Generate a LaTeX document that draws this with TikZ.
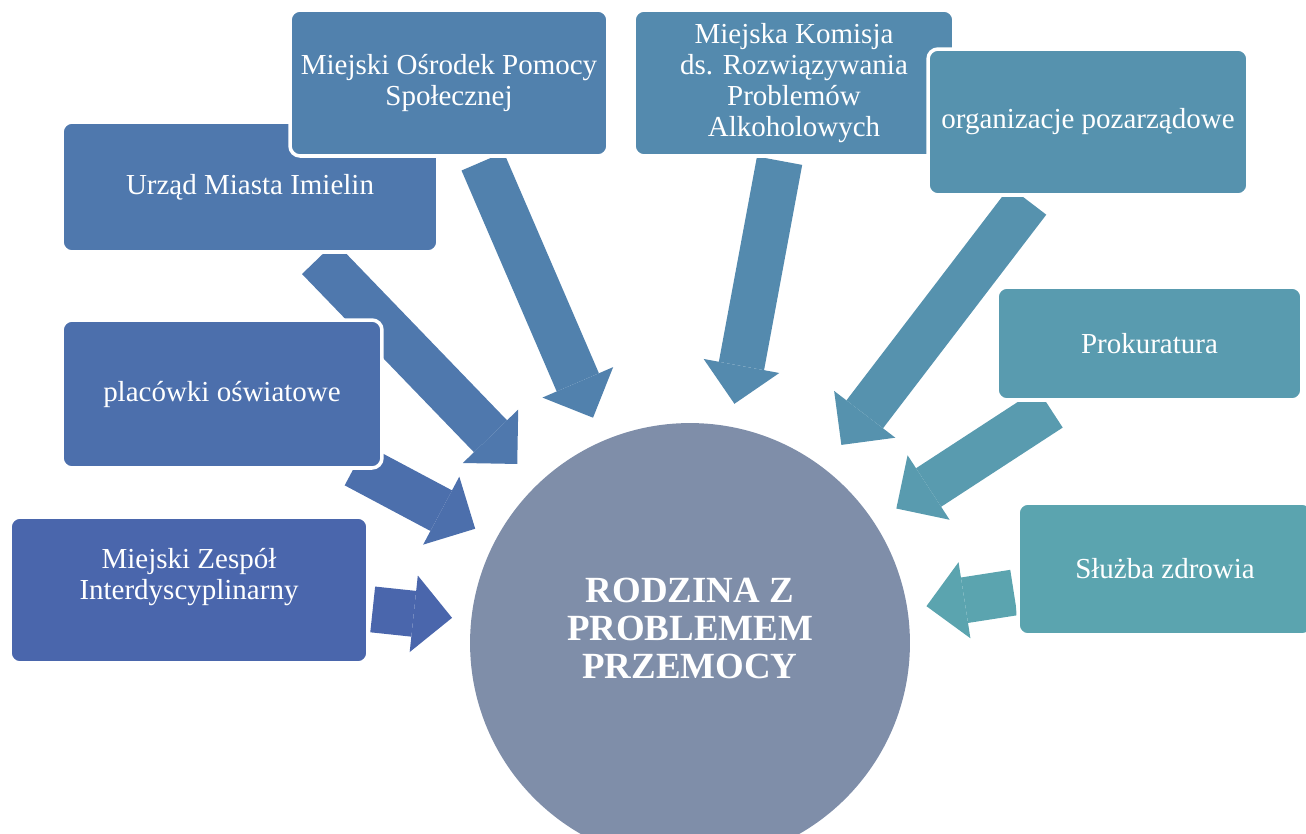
\documentclass[tikz,border=0pt]{standalone}
\usepackage{fontspec}
\setmainfont{Liberation Serif}
\usetikzlibrary{arrows.meta,backgrounds}
\definecolor{c1}{HTML}{4A66AC}
\definecolor{c2}{HTML}{4C6FAC}
\definecolor{c3}{HTML}{4F78AD}
\definecolor{c4}{HTML}{5181AD}
\definecolor{c5}{HTML}{548AAE}
\definecolor{c6}{HTML}{5692AE}
\definecolor{c7}{HTML}{599BAF}
\definecolor{c8}{HTML}{5BA4AF}
\definecolor{rodz}{HTML}{7F8EA9}
\begin{document}
\begin{tikzpicture}[x=0.02cm,y=-0.02cm,
    box/.style={rectangle,rounded corners=0.2cm,draw=white,line width=2pt,
      text=white,align=center,font=\fontsize{16.5pt}{17.6pt}\selectfont},
    txt/.style={text=white,align=center,font=\fontsize{16.5pt}{17.6pt}\selectfont},
    big/.style={line width=0.92cm,-{Triangle[width=1.54cm,length=0.77cm,line width=0pt]}}]
  \useasboundingbox (0,0) rectangle (1306,833);
  \node[circle,fill=rodz,minimum size=8.8cm,inner sep=0pt] (rodzina) at (690,643) {};
  \node[text=white,align=center,font=\bfseries\fontsize{21pt}{21.5pt}\selectfont]
    (rodzinatxt) at (690,628.5) {RODZINA Z\\PROBLEMEM\\PRZEMOCY};
  \node[box,fill=c1,minimum width=7.16cm,minimum height=2.92cm] (zespol) at (189,590) {};
  \node[txt] (zespoltxt) at (189,577) {Miejski Zespół\\Interdyscyplinarny};
  \node[box,fill=c2,minimum width=6.4cm,minimum height=2.96cm] (placowki) at (222,394) {placówki oświatowe};
  \node[box,fill=c3,minimum width=7.52cm,minimum height=2.6cm] (urzad) at (250,187) {Urząd Miasta Imielin};
  \node[box,fill=c4,minimum width=6.36cm,minimum height=2.92cm] (osrodek) at (449,83) {Miejski Ośrodek Pomocy\\Społecznej};
  \node[box,fill=c5,minimum width=6.4cm,minimum height=2.92cm] (komisja) at (794,83) {Miejska Komisja\\ds. Rozwiązywania\\Problemów\\Alkoholowych};
  \node[box,fill=c6,minimum width=6.4cm,minimum height=2.92cm] (ngo) at (1088,122) {organizacje pozarządowe};
  \node[box,fill=c7,minimum width=6.1cm,minimum height=2.26cm] (prokuratura) at (1149.5,343.5) {Prokuratura};
  \node[box,fill=c8,minimum width=5.88cm,minimum height=2.64cm] (sluzba) at (1165,569) {Służba zdrowia};
  \begin{scope}[on background layer]
    \draw[big,c1,shorten <=0.06cm,shorten >=0.38cm] (zespol) to (rodzina);
    \draw[big,c2,shorten <=-0.2cm,shorten >=0.46cm] (placowki) to (rodzina);
    \draw[big,c3,shorten <=0.12cm,shorten >=0.57cm] (urzad) to (rodzina);
    \draw[big,c4,shorten <=0.08cm,shorten >=0.5cm] (osrodek) to (rodzina);
    \draw[big,c5,shorten <=0.06cm,shorten >=0.46cm] (komisja) to (rodzina);
    \draw[big,c6,shorten <=0.1cm,shorten >=0.58cm] (ngo) to (rodzina);
    \draw[big,c7,shorten <=0.24cm,shorten >=0.52cm] (prokuratura) to (rodzina);
    \draw[big,c8,shorten <=0.05cm,shorten >=0.38cm] (sluzba) to (rodzina);
  \end{scope}
\end{tikzpicture}
\end{document}
